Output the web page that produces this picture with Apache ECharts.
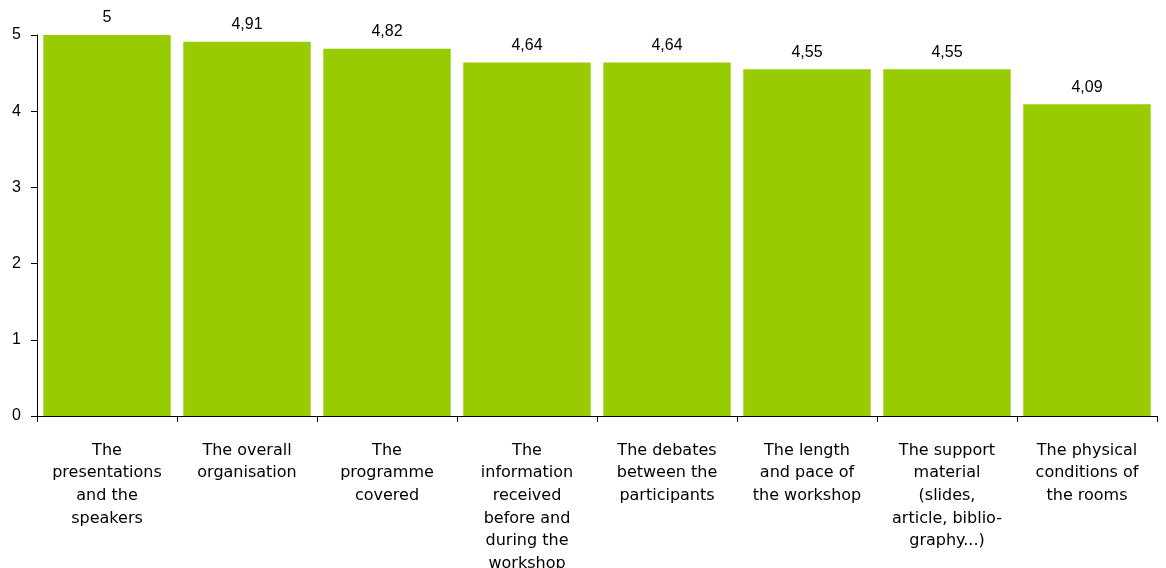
<!DOCTYPE html>
<html>
<head>
<meta charset="utf-8">
<script src="https://cdn.jsdelivr.net/npm/echarts@6/dist/echarts.min.js"></script>
<style>
  html, body { margin: 0; padding: 0; background: #fff; }
  #chart { width: 1166px; height: 568px; }
</style>
</head>
<body>
<div id="chart"></div>
<script>
  // categories, with the line breaks used in the picture
  var categories = [
    "The\npresentations\nand the\nspeakers",
    "The overall\norganisation",
    "The\nprogramme\ncovered",
    "The\ninformation\nreceived\nbefore and\nduring the\nworkshop",
    "The debates\nbetween the\nparticipants",
    "The length\nand pace of\nthe workshop",
    "The support\nmaterial\n(slides,\narticle, biblio-\ngraphy...)",
    "The physical\nconditions of\nthe rooms"
  ];
  var scores = [5, 4.91, 4.82, 4.64, 4.64, 4.55, 4.55, 4.09];

  var myChart = echarts.init(document.getElementById("chart"));
  var option = {
    animation: false,
    grid: {
      left: 37,
      right: 9,
      top: 35,
      bottom: 152,
      outerBoundsMode: "none",
      containLabel: false
    },
    xAxis: {
      type: "category",
      data: categories,
      axisLine: { lineStyle: { color: "#000", width: 1 } },
      axisTick: { show: true, length: 6, lineStyle: { color: "#000" } },
      axisLabel: {
        interval: 0,
        margin: 23,
        color: "#000",
        fontFamily: "DejaVu Sans",
        fontSize: 16,
        lineHeight: 22.7
      }
    },
    yAxis: {
      type: "value",
      min: 0,
      max: 5,
      interval: 1,
      splitLine: { show: false },
      axisLine: { show: true, lineStyle: { color: "#000" } },
      axisTick: { show: true, length: 6, lineStyle: { color: "#000" } },
      axisLabel: {
        margin: 16,
        color: "#000",
        fontFamily: "Liberation Sans",
        fontSize: 16
      }
    },
    series: [
      {
        type: "bar",
        data: scores,
        barCategoryGap: "9%",
        itemStyle: { color: "#99CC00" },
        label: {
          show: true,
          position: "top",
          distance: 9,
          color: "#000",
          fontFamily: "Liberation Sans",
          fontSize: 16,
          formatter: function (p) {
            return String(p.value).replace(".", ",");
          }
        }
      }
    ]
  };
  myChart.setOption(option);
</script>
</body>
</html>
